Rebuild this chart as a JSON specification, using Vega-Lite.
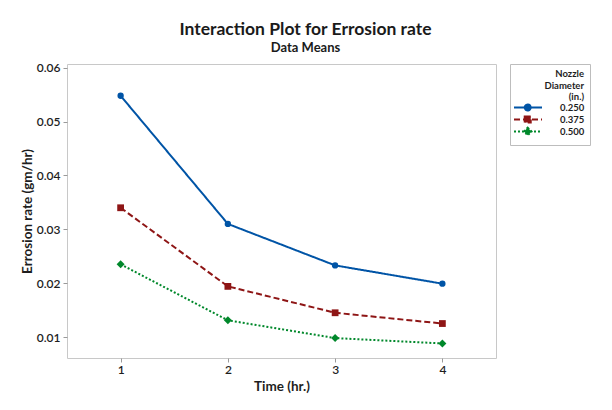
{
  "$schema": "https://vega.github.io/schema/vega-lite/v6.json",
  "autosize": {"type": "none"},
  "padding": {"left": 67, "top": 64, "right": 116, "bottom": 52},
  "width": 429,
  "height": 294,
  "background": "white",
  "config": {
    "font": "Lato",
    "view": {"stroke": "#c8c8c8", "strokeWidth": 1},
    "axis": {
      "domain": false,
      "grid": false,
      "tickColor": "#9a9a9a",
      "tickSize": 4,
      "labelFont": "Lato",
      "labelFontSize": 12,
      "labelFontWeight": 600,
      "labelColor": "#1e1e1e",
      "titleFont": "Lato",
      "titleFontSize": 13.5,
      "titleFontWeight": "bold",
      "titleColor": "#1e1e1e"
    }
  },
  "title": {
    "text": "Interaction Plot for Errosion rate",
    "subtitle": "Data Means",
    "anchor": "middle",
    "dx": 24,
    "offset": 7,
    "font": "Lato",
    "fontSize": 17.5,
    "fontWeight": "bold",
    "color": "#1a1a1a",
    "subtitleFont": "Lato",
    "subtitleFontSize": 13,
    "subtitleFontWeight": "bold",
    "subtitleColor": "#1a1a1a",
    "subtitlePadding": 3
  },
  "data": {
    "values": [
      {"Time": 1, "Diameter": "0.250", "Rate": 0.0548},
      {"Time": 2, "Diameter": "0.250", "Rate": 0.0310},
      {"Time": 3, "Diameter": "0.250", "Rate": 0.0233},
      {"Time": 4, "Diameter": "0.250", "Rate": 0.0199},
      {"Time": 1, "Diameter": "0.375", "Rate": 0.0340},
      {"Time": 2, "Diameter": "0.375", "Rate": 0.0194},
      {"Time": 3, "Diameter": "0.375", "Rate": 0.0145},
      {"Time": 4, "Diameter": "0.375", "Rate": 0.0125},
      {"Time": 1, "Diameter": "0.500", "Rate": 0.0235},
      {"Time": 2, "Diameter": "0.500", "Rate": 0.0131},
      {"Time": 3, "Diameter": "0.500", "Rate": 0.0098},
      {"Time": 4, "Diameter": "0.500", "Rate": 0.0088}
    ]
  },
  "encoding": {
    "x": {
      "field": "Time",
      "type": "quantitative",
      "scale": {"domain": [0.5, 4.5], "nice": false, "zero": false},
      "axis": {"values": [1, 2, 3, 4], "format": "d", "title": "Time (hr.)", "labelPadding": 2, "titlePadding": 4}
    },
    "y": {
      "field": "Rate",
      "type": "quantitative",
      "scale": {"domain": [0.0061, 0.0607], "nice": false, "zero": false},
      "axis": {"values": [0.01, 0.02, 0.03, 0.04, 0.05, 0.06], "format": ".2f", "title": "Errosion rate (gm/hr)", "labelPadding": 3, "titlePadding": 2}
    },
    "color": {
      "field": "Diameter",
      "type": "nominal",
      "scale": {"domain": ["0.250", "0.375", "0.500"], "range": ["#0054A6", "#8E1515", "#00882B"]},
      "legend": {
        "title": ["Nozzle", "Diameter", "(in.)"],
        "orient": "right",
        "offset": 14,
        "padding": 5,
        "strokeColor": "#bdbdbd",
        "titleAlign": "right",
        "titleAnchor": "end",
        "titleFont": "Lato",
        "titleFontSize": 9.5,
        "titleFontWeight": "bold",
        "titleLineHeight": 11.5,
        "titleColor": "#1e1e1e",
        "titlePadding": 1,
        "labelFont": "Lato",
        "labelFontSize": 9.5,
        "labelFontWeight": "bold",
        "labelColor": "#1e1e1e",
        "labelOffset": 35,
        "symbolSize": 64,
        "symbolStrokeWidth": 2,
        "symbolOpacity": 1,
        "rowPadding": -6
      }
    }
  },
  "layer": [
    {
      "mark": {"type": "line", "strokeWidth": 2},
      "encoding": {
        "strokeDash": {
          "field": "Diameter",
          "type": "nominal",
          "scale": {"domain": ["0.250", "0.375", "0.500"], "range": [[1, 0], [6, 3], [2, 2]]},
          "legend": null
        }
      }
    },
    {
      "transform": [{"filter": "datum.Diameter == '0.250'"}],
      "mark": {"type": "point", "filled": true, "opacity": 1, "size": 40, "shape": "circle"}
    },
    {
      "transform": [{"filter": "datum.Diameter == '0.375'"}],
      "mark": {"type": "point", "filled": true, "opacity": 1, "size": 46, "shape": "square"}
    },
    {
      "transform": [{"filter": "datum.Diameter == '0.500'"}],
      "mark": {"type": "point", "filled": true, "opacity": 1, "size": 64, "shape": "diamond"}
    },
    {
      "mark": {"type": "point", "filled": true, "opacity": 0},
      "encoding": {
        "shape": {
          "field": "Diameter",
          "type": "nominal",
          "scale": {
            "domain": ["0.250", "0.375", "0.500"],
            "range": [
              "M-1.5,0H5.5M2.68,0A0.75,0.75,0,1,1,1.18,0A0.75,0.75,0,1,1,2.68,0Z",
              "M-1.5,0H5.5M1.18,-0.75H2.68V0.75H1.18Z",
              "M-1.5,0H5.5M1.93,-0.95L2.88,0L1.93,0.95L0.98,0Z"
            ]
          },
          "legend": null
        }
      }
    }
  ]
}
